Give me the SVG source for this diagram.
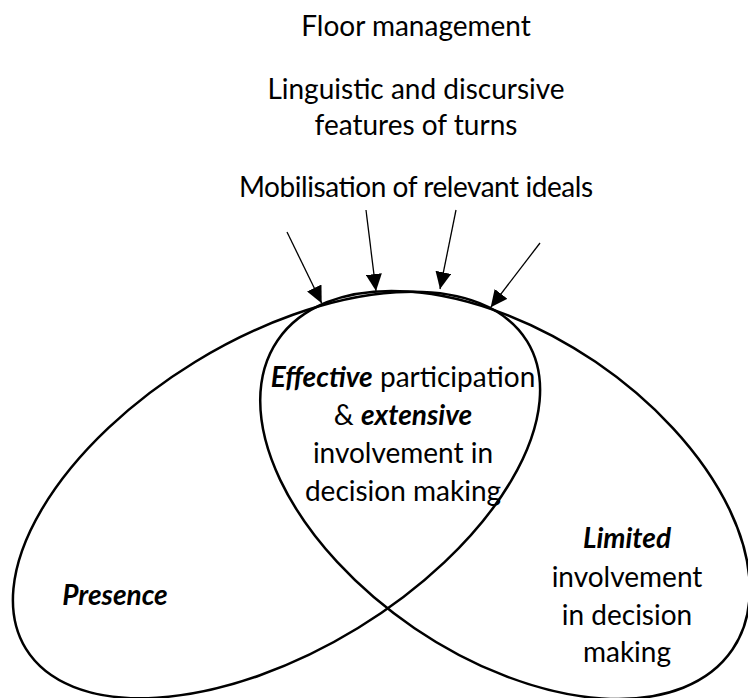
<svg xmlns="http://www.w3.org/2000/svg" width="748" height="698" viewBox="0 0 748 698">
<style>
  text { font-family: "Lato", "Liberation Sans", sans-serif; font-size: 28px; fill: #000; text-anchor: middle; }
  .bi { font-weight: bold; font-style: italic; }
  .ell { fill: none; stroke: #000; stroke-width: 2.5; }
  .arr { stroke: #000; stroke-width: 1.3; fill: none; }
</style>
<defs>
  <marker id="ah" markerUnits="userSpaceOnUse" markerWidth="17" markerHeight="16" refX="17" refY="8" orient="auto" viewBox="0 0 17 16">
    <path d="M0,0 L17,8 L0,16 Z" fill="#000"/>
  </marker>
</defs>
<rect width="748" height="698" fill="#fff"/>
<g id="presence">
  <ellipse class="ell" cx="276.5" cy="495" rx="294" ry="156" transform="rotate(-31.5 276.5 495)"/>
  <text x="115" y="605" class="bi">Presence</text>
</g>
<g id="limited">
  <ellipse class="ell" cx="505" cy="495" rx="275" ry="161" transform="rotate(34.2 505 495)"/>
  <text x="627" y="548" class="bi">Limited</text>
  <text x="627" y="587">involvement</text>
  <text x="627" y="625">in decision</text>
  <text x="627" y="662">making</text>
</g>
<g id="effective">
  <text x="403" y="387"><tspan class="bi">Effective</tspan> participation</text>
  <text x="403" y="425">&amp; <tspan class="bi">extensive</tspan></text>
  <text x="403" y="463">involvement in</text>
  <text x="403" y="501">decision making</text>
</g>
<g id="floor">
  <text x="416" y="36">Floor management</text>
</g>
<g id="linguistic">
  <text x="416" y="99">Linguistic and discursive</text>
  <text x="416" y="135">features of turns</text>
</g>
<g id="mobilisation">
  <text x="416" y="197" textLength="354">Mobilisation of relevant ideals</text>
</g>
<g id="connectors">
  <line class="arr" x1="287" y1="232" x2="321.7" y2="303.3" marker-end="url(#ah)"/>
  <line class="arr" x1="366" y1="210" x2="376" y2="291" marker-end="url(#ah)"/>
  <line class="arr" x1="456" y1="210" x2="440" y2="289" marker-end="url(#ah)"/>
  <line class="arr" x1="540" y1="243" x2="490.7" y2="307.3" marker-end="url(#ah)"/>
</g>
</svg>
